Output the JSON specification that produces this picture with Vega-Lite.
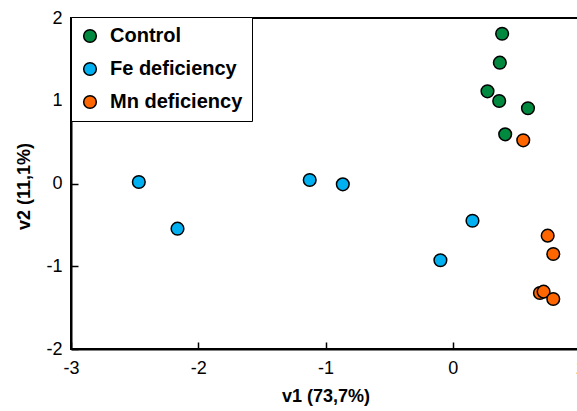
{
  "$schema": "https://vega.github.io/schema/vega-lite/v6.json",
  "autosize": "none",
  "width": 509,
  "height": 331,
  "padding": {"left": 71, "top": 18, "right": 0, "bottom": 62},
  "background": "white",
  "config": {
    "font": "Liberation Sans",
    "view": {"stroke": "black", "strokeWidth": 2},
    "axis": {
      "domainColor": "black",
      "domainWidth": 2,
      "tickColor": "black",
      "tickWidth": 1.5,
      "tickSize": -7,
      "grid": false,
      "labelFont": "Liberation Sans",
      "labelFontSize": 18,
      "labelColor": "black",
      "titleFont": "Liberation Sans",
      "titleFontSize": 18,
      "titleFontWeight": "bold",
      "titleColor": "black"
    }
  },
  "data": {
    "values": [
      {"v1": 0.388, "v2": 1.81, "group": "Control"},
      {"v1": 0.370, "v2": 1.46, "group": "Control"},
      {"v1": 0.273, "v2": 1.114, "group": "Control"},
      {"v1": 0.365, "v2": 0.997, "group": "Control"},
      {"v1": 0.591, "v2": 0.909, "group": "Control"},
      {"v1": 0.412, "v2": 0.594, "group": "Control"},
      {"v1": -2.467, "v2": 0.018, "group": "Fe deficiency"},
      {"v1": -2.163, "v2": -0.546, "group": "Fe deficiency"},
      {"v1": -1.124, "v2": 0.042, "group": "Fe deficiency"},
      {"v1": -0.864, "v2": -0.01, "group": "Fe deficiency"},
      {"v1": 0.155, "v2": -0.45, "group": "Fe deficiency"},
      {"v1": -0.097, "v2": -0.928, "group": "Fe deficiency"},
      {"v1": 0.554, "v2": 0.522, "group": "Mn deficiency"},
      {"v1": 0.746, "v2": -0.63, "group": "Mn deficiency"},
      {"v1": 0.79, "v2": -0.852, "group": "Mn deficiency"},
      {"v1": 0.685, "v2": -1.323, "group": "Mn deficiency"},
      {"v1": 0.714, "v2": -1.307, "group": "Mn deficiency"},
      {"v1": 0.79, "v2": -1.396, "group": "Mn deficiency"}
    ]
  },
  "mark": {"type": "point", "filled": true, "size": 160, "stroke": "black", "strokeWidth": 1.5, "opacity": 1},
  "encoding": {
    "x": {"field": "v1", "type": "quantitative", "title": "v1 (73,7%)",
          "scale": {"domain": [-3, 1], "nice": false, "zero": false},
          "axis": {"values": [-3, -2, -1, 0, 1], "labelExpr": "datum.value + ''", "labelFlush": false, "labelPadding": 17, "titlePadding": 10}},
    "y": {"field": "v2", "type": "quantitative", "title": "v2 (11,1%)",
          "scale": {"domain": [-2, 2], "nice": false, "zero": false},
          "axis": {"values": [-2, -1, 0, 1, 2], "labelExpr": "datum.value + ''", "labelFlush": false, "labelPadding": 16,
                   "titleX": -47, "titleY": 168, "titleAngle": 270, "titleAlign": "center", "titleBaseline": "middle"}},
    "color": {"field": "group", "type": "nominal",
              "scale": {"domain": ["Control", "Fe deficiency", "Mn deficiency"], "range": ["#00893F", "#00B0F0", "#FF6600"]},
              "legend": {"title": null, "orient": "none", "legendX": 0, "legendY": -1,
                         "strokeColor": "black", "fillColor": "white", "padding": 9,
                         "symbolSize": 160, "symbolStrokeColor": "black", "symbolStrokeWidth": 1.5, "symbolType": "circle",
                         "labelFont": "Liberation Sans", "labelFontSize": 20, "labelFontWeight": "bold", "labelColor": "black",
                         "labelExpr": "datum.label + '  '",
                         "labelOffset": 10, "rowPadding": 13}}
  }
}
